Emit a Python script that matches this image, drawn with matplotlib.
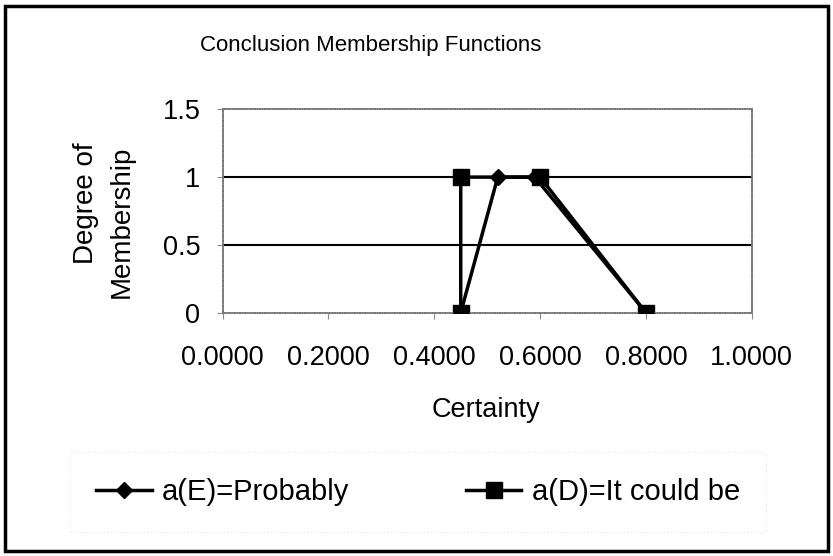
import matplotlib
matplotlib.use('Agg')
import matplotlib.pyplot as plt
import matplotlib.patches as mpatches
from matplotlib.ticker import FormatStrFormatter

plt.rcParams['font.family'] = ['Liberation Sans', 'DejaVu Sans']

# dados
prob_x = [0.45, 0.52, 0.59, 0.80]
prob_y = [0, 1, 1, 0]
could_x = [0.45, 0.45, 0.60, 0.80]
could_y = [0, 1, 1, 0]
x_ticks = [0.0, 0.2, 0.4, 0.6, 0.8, 1.0]
y_ticks = [0, 0.5, 1, 1.5]
y_labels = ['0', '0.5', '1', '1.5']

fig = plt.figure(figsize=(8.33, 5.56), dpi=100)
ax = fig.add_axes([0.2673, 0.4376, 0.6351, 0.3658])

# grade horizontal
for v in [0.5, 1.0]:
    ax.axhline(v, color='black', lw=1.5, zorder=1)

l1, = ax.plot(prob_x, prob_y, color='black', lw=2.5, marker='D', ms=8,
              label='a(E)=Probably', zorder=3)
l2, = ax.plot(could_x, could_y, color='black', lw=2.5, marker='s', ms=12,
              label='a(D)=It could be', zorder=2)

ax.set_xlim(0, 1)
ax.set_ylim(0, 1.5)
ax.set_xticks(x_ticks)
ax.xaxis.set_major_formatter(FormatStrFormatter('%.4f'))
ax.set_yticks(y_ticks)
ax.set_yticklabels(y_labels)
ax.tick_params(labelsize=19.5, length=4, width=0.8, color='#888888')
ax.tick_params(axis='x', pad=19)
ax.tick_params(axis='y', pad=12)
for s in ax.spines.values():
    s.set_color('#777777')
    s.set_linewidth(1.2)
    s.set_linestyle((0, (1, 0.5)))

fig.text(486 / 833, 1 - 410 / 556, 'Certainty', fontsize=19.5,
         ha='center', va='center')
fig.text(86 / 833, 1 - 203 / 556, 'Degree of', fontsize=20, rotation=90,
         ha='center', va='center')
fig.text(122 / 833, 1 - 222 / 556, 'Membership', fontsize=20, rotation=90,
         ha='center', va='center')
fig.text(0.445, 0.918, 'Conclusion Membership Functions', fontsize=16,
         ha='center', va='center')

leg = fig.legend(handles=[l1, l2], loc='center', bbox_to_anchor=(0.502, 0.115),
                 ncol=2, fontsize=21, frameon=True, handlelength=1.9,
                 handletextpad=0.35, columnspacing=4.0, fancybox=False,
                 borderpad=0.9)
leg.get_frame().set_edgecolor('#dddddd')
leg.get_frame().set_linewidth(0.8)
leg.get_frame().set_linestyle((0, (1, 2)))

# moldura externa
fig.patches.append(mpatches.Rectangle((0.006, 0.009), 0.988, 0.981,
                                      transform=fig.transFigure, fill=False,
                                      edgecolor='black', lw=2.5))

fig.savefig('out.png', dpi=100)
